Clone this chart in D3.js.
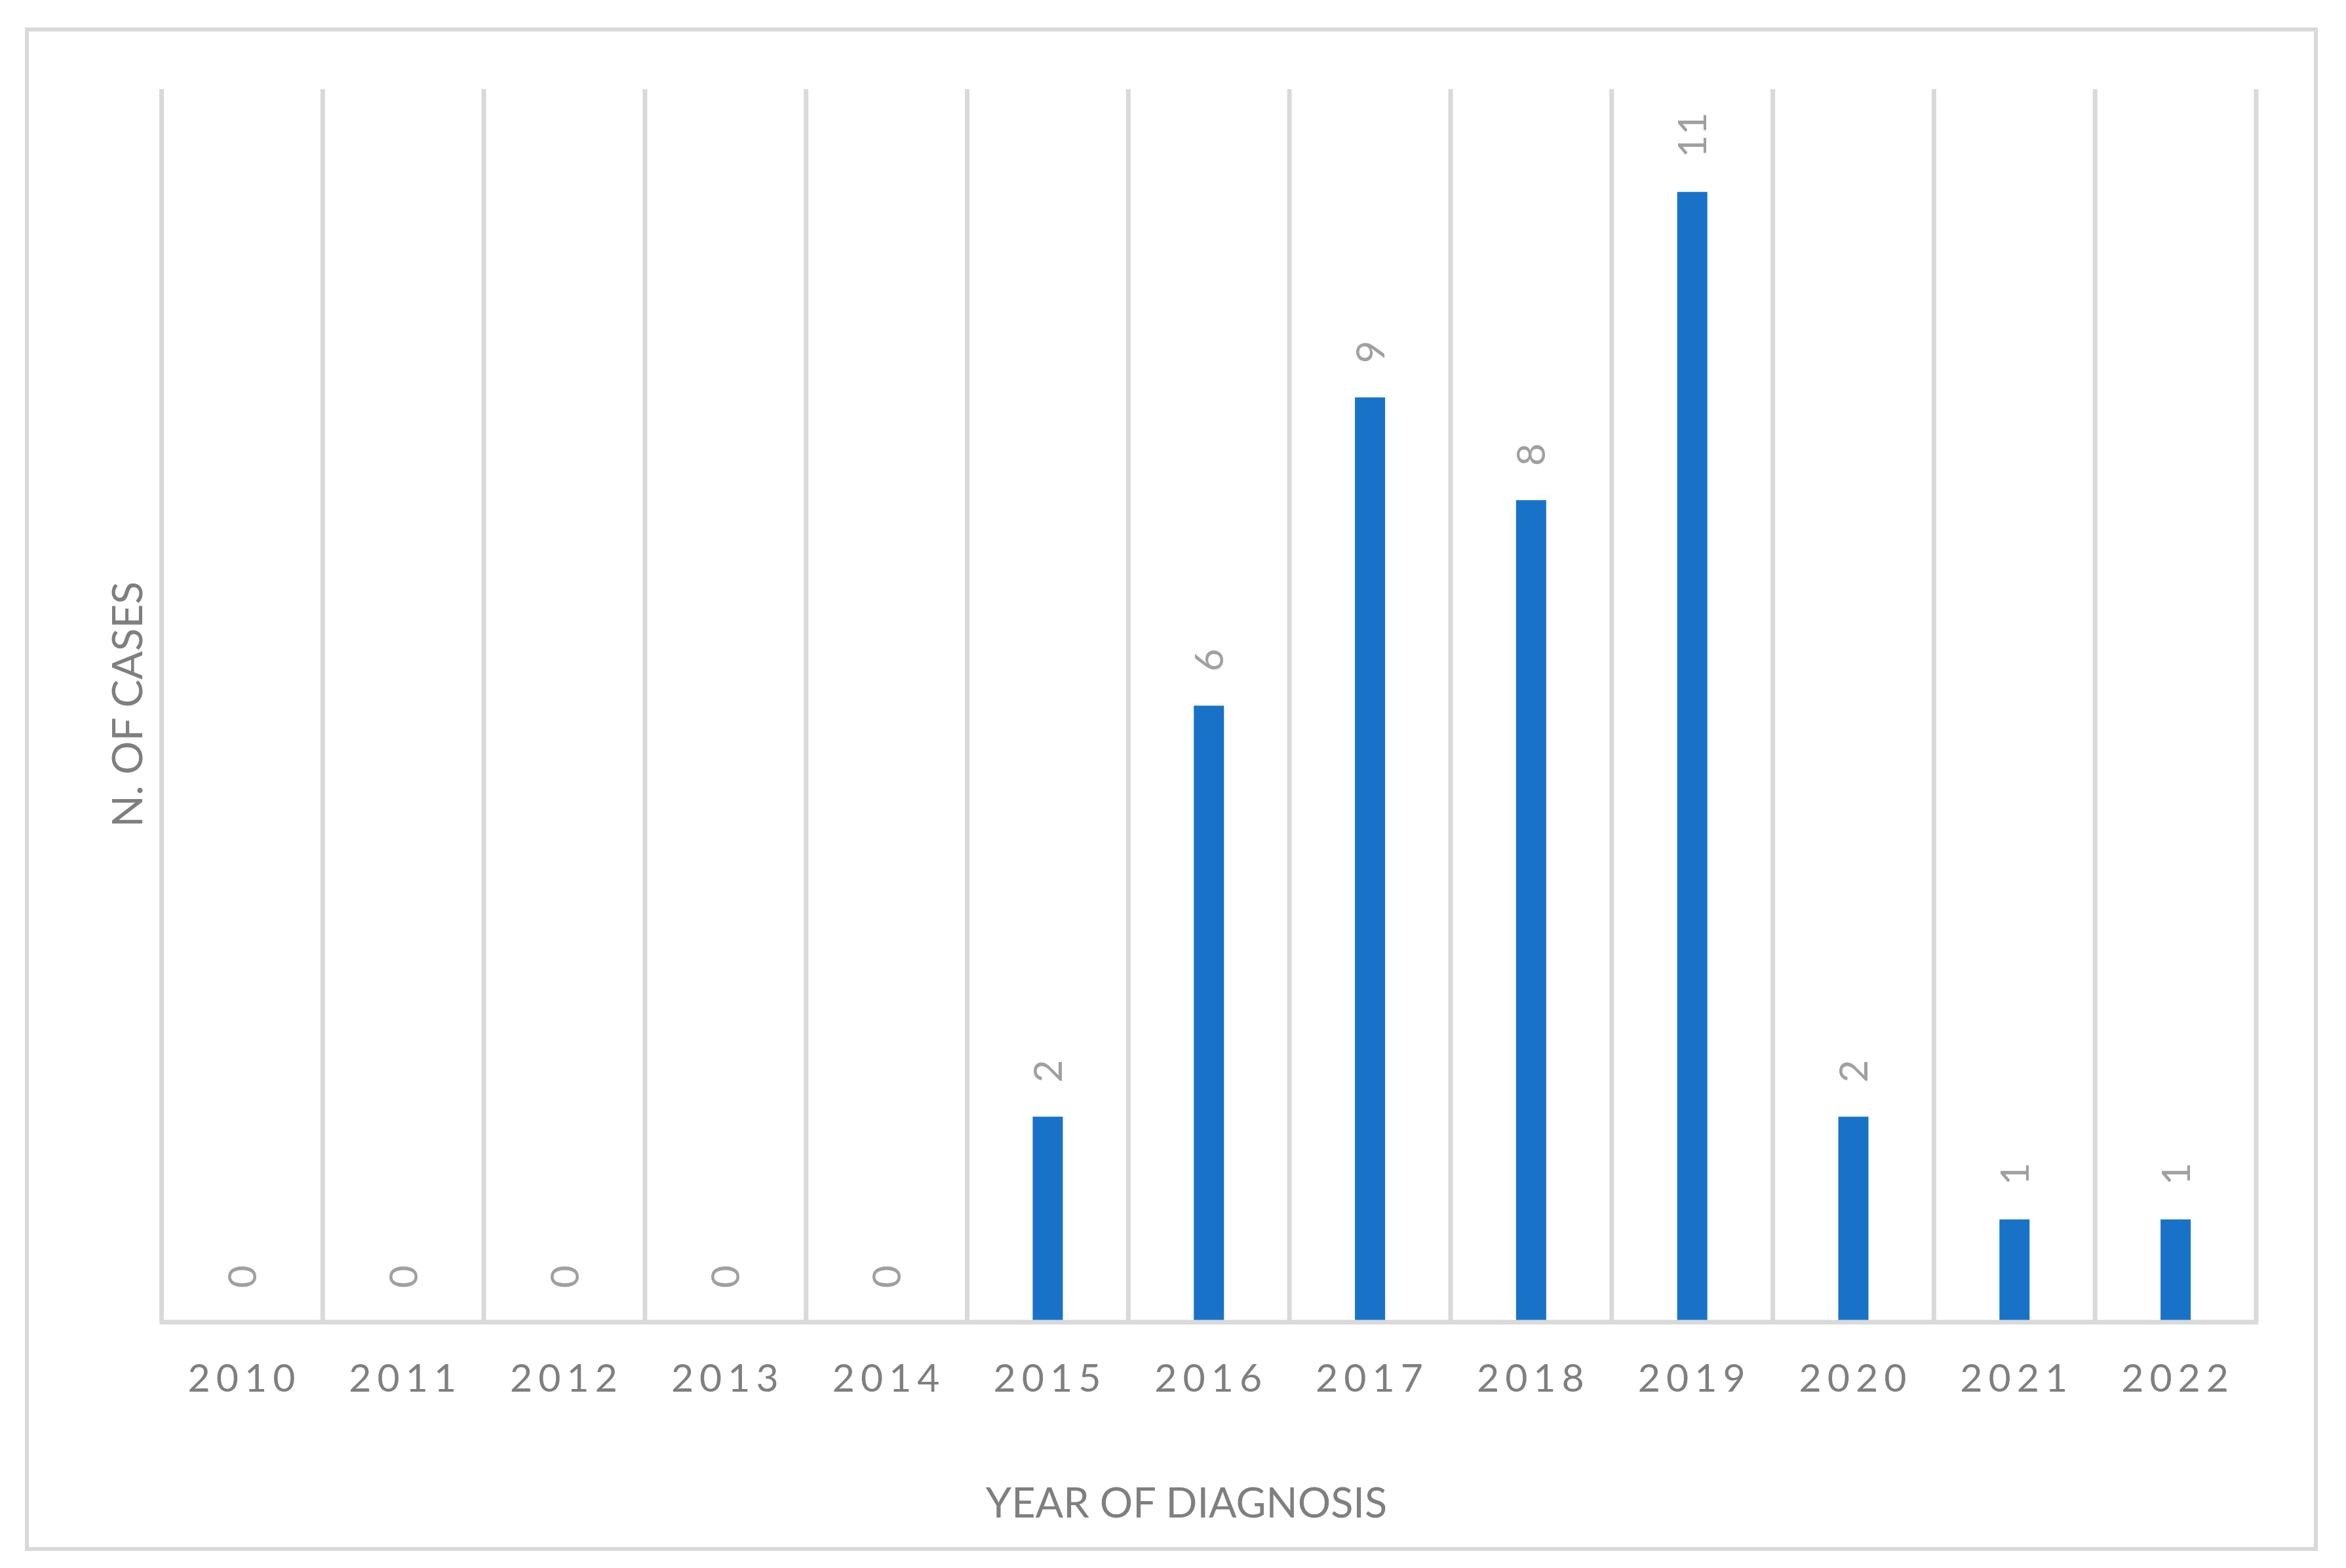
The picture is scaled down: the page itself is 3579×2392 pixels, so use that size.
<!DOCTYPE html>
<html>
<head>
<meta charset="utf-8">
<script src="https://cdn.jsdelivr.net/npm/d3@7"></script>
<style>
  html, body { margin: 0; padding: 0; background: #ffffff; }
  svg { display: block; }
</style>
</head>
<body>
<script>
const years = ["2010","2011","2012","2013","2014","2015","2016","2017","2018","2019","2020","2021","2022"];
const cases = [0, 0, 0, 0, 0, 2, 6, 9, 8, 11, 2, 1, 1];
const xTitle = "YEAR OF DIAGNOSIS";
const yTitle = "N. OF CASES";

(function () {
const W = 3579, H = 2392;
const FONT = "Lato, 'Open Sans', sans-serif";
const svg = d3.select("body").append("svg").attr("width", W).attr("height", H);
svg.append("rect").attr("width", W).attr("height", H).attr("fill", "#ffffff");

// outer chart border
svg.append("rect")
  .attr("x", 41).attr("y", 45).attr("width", 3533 - 41).attr("height", 2363 - 45)
  .attr("fill", "none").attr("stroke", "#d9d9d9").attr("stroke-width", 6);

const plotL = 246.5, plotR = 3442, plotT = 136, plotB = 2017;
const x = d3.scaleBand().domain(years).range([plotL, plotR]).paddingInner(0).paddingOuter(0);
const y = d3.scaleLinear().domain([0, 12]).range([plotB, plotT]);
const barW = 46;

// vertical gridlines at category boundaries
const bounds = years.map(d => x(d)).concat([x(years[years.length - 1]) + x.bandwidth()]);
svg.append("g").selectAll("line").data(bounds).join("line")
  .attr("x1", d => d).attr("x2", d => d)
  .attr("y1", y(12)).attr("y2", plotB)
  .attr("stroke", "#d9d9d9").attr("stroke-width", 7);

// bars
svg.append("g").selectAll("rect").data(years).join("rect")
  .attr("x", (d) => x(d) + x.bandwidth() / 2 - barW / 2)
  .attr("y", (d, i) => y(cases[i]))
  .attr("width", barW)
  .attr("height", (d, i) => plotB - y(cases[i]))
  .attr("fill", "#1873c8");

// x axis line + tick labels
const xAxis = d3.axisBottom(x).tickSize(0).tickPadding(0);
const gx = svg.append("g").attr("transform", `translate(0,${plotB})`).call(xAxis);
gx.select(".domain").attr("stroke", "#d9d9d9").attr("stroke-width", 7)
  .attr("d", `M${plotL - 3},0H${plotR + 3}`);
gx.selectAll(".tick text")
  .attr("y", 106).attr("dy", 0)
  .attr("dx", 3.5)
  .style("letter-spacing", "9px")
  .attr("font-family", FONT).attr("font-size", 59)
  .attr("fill", "#7f7f7f");

// data labels (rotated)
svg.append("g").selectAll("text").data(years).join("text")
  .attr("transform", (d, i) => `translate(${x(d) + x.bandwidth() / 2},${y(cases[i]) - 52}) rotate(-90)`)
  .attr("dy", "0.36em")
  .attr("text-anchor", "start")
  .attr("font-family", FONT).attr("font-size", 60)
  .attr("fill", "#a0a0a0")
  .text((d, i) => cases[i]);

// axis titles
svg.append("text")
  .attr("x", 1810).attr("y", 2315)
  .attr("text-anchor", "middle")
  .attr("font-family", FONT).attr("font-size", 63)
  .attr("fill", "#7f7f7f")
  .text(xTitle);

svg.append("text")
  .attr("transform", `translate(217,${(plotT + plotB) / 2 - 2}) rotate(-90)`)
  .attr("text-anchor", "middle")
  .attr("font-family", FONT).attr("font-size", 64)
  .attr("fill", "#7f7f7f")
  .text(yTitle);
})();
</script>
</body>
</html>
